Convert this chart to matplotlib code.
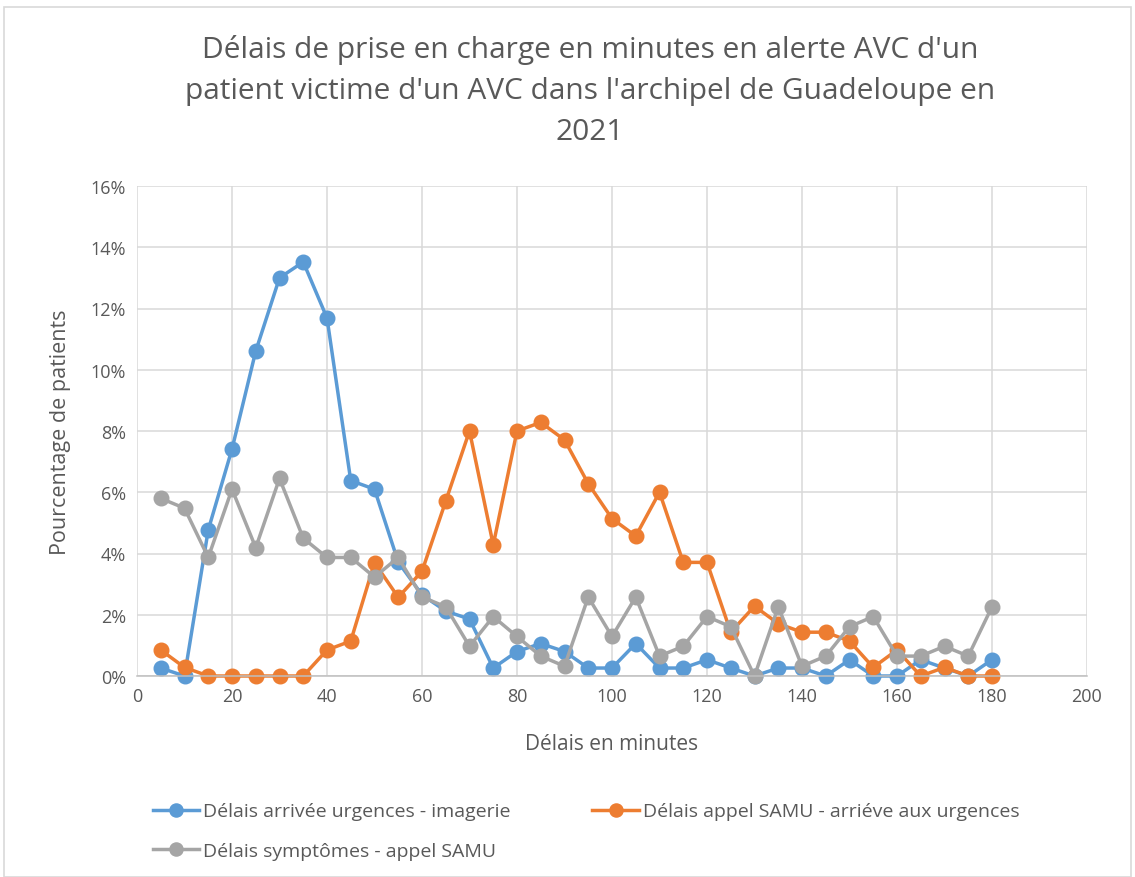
import numpy as np
import matplotlib.pyplot as plt
from matplotlib.patches import Rectangle
from matplotlib.ticker import FuncFormatter

# Minutes (x) and % of patients for each delay series
minutes = list(range(5, 185, 5))

arrivee_imagerie = [0.26, 0.0, 4.77, 7.41, 10.61, 13.0, 13.52, 11.69, 6.38, 6.1,
                    3.72, 2.65, 2.12, 1.86, 0.26, 0.8, 1.06, 0.8, 0.26, 0.26,
                    1.06, 0.26, 0.26, 0.53, 0.26, 0.0, 0.26, 0.26, 0.0, 0.53,
                    0.0, 0.0, 0.53, 0.26, 0.0, 0.53]
appel_arrivee = [0.85, 0.28, 0.0, 0.0, 0.0, 0.0, 0.0, 0.85, 1.14, 3.7,
                 2.57, 3.42, 5.71, 8.0, 4.28, 8.0, 8.28, 7.71, 6.28, 5.14,
                 4.57, 6.0, 3.71, 3.71, 1.43, 2.28, 1.71, 1.43, 1.43, 1.14,
                 0.28, 0.85, 0.0, 0.28, 0.0, 0.0]
symptomes_appel = [5.8, 5.48, 3.87, 6.1, 4.19, 6.45, 4.5, 3.87, 3.87, 3.23,
                   3.87, 2.58, 2.26, 0.97, 1.94, 1.29, 0.65, 0.32, 2.58, 1.29,
                   2.58, 0.65, 0.97, 1.94, 1.61, 0.0, 2.26, 0.32, 0.65, 1.61,
                   1.94, 0.65, 0.65, 0.97, 0.65, 2.26]

labels = ["Délais arrivée urgences - imagerie",
          "Délais appel SAMU - arriéve aux urgences",
          "Délais symptômes - appel SAMU"]
colors = ["#5B9BD5", "#ED7D31", "#A5A5A5"]

plt.rcParams["font.family"] = ["Open Sans", "DejaVu Sans"]
txt = "#595959"

fig = plt.figure(figsize=(11.35, 8.78), dpi=100)
fig.patches.append(Rectangle((4 / 1135, 0), 1 - 8 / 1135, 1 - 8 / 878,
                             transform=fig.transFigure, fill=False,
                             edgecolor="#D9D9D9", linewidth=1.2))
ax = fig.add_axes([137 / 1135, 1 - 677 / 878, 950 / 1135, 490 / 878])

lines = []
for ys, lab, col in zip([arrivee_imagerie, appel_arrivee, symptomes_appel], labels, colors):
    ln, = ax.plot(minutes, ys, color=col, lw=2.5, marker="o", markersize=10.5,
                  label=lab, solid_joinstyle="round", clip_on=False)
    lines.append(ln)

ax.set_xlim(0, 200)
ax.set_ylim(0, 16)
ax.set_xticks(range(0, 201, 20))
ax.set_yticks(range(0, 17, 2))
ax.yaxis.set_major_formatter(FuncFormatter(lambda v, p: f"{v:.0f}%"))
ax.grid(True, color="#D9D9D9", lw=1.1)
ax.set_axisbelow(True)
for s in ["top", "right", "left"]:
    ax.spines[s].set_visible(False)
ax.spines["bottom"].set_color("#BFBFBF")
ax.spines["bottom"].set_linewidth(1.1)
ax.tick_params(length=0, labelsize=13, colors=txt, pad=8)

ax.set_xlabel("Délais en minutes", fontsize=15, color=txt, labelpad=20)
ax.set_ylabel("Pourcentage de patients", fontsize=15.5, color=txt, labelpad=14)

fig.text(0.52, 1 - 91 / 878,
         "Délais de prise en charge en minutes en alerte AVC d'un\n"
         "patient victime d'un AVC dans l'archipel de Guadeloupe en\n2021",
         ha="center", va="center", fontsize=21.5, color=txt, linespacing=1.55)

# column-major fill: blue / gray in first column, orange in second
order = [0, 2, 1]
fig.legend([lines[i] for i in order], [labels[i] for i in order],
           loc="upper left", bbox_to_anchor=(135 / 1135, 1 - 786 / 878),
           ncol=2, frameon=False, fontsize=14, labelcolor=txt,
           handlelength=2.4, handletextpad=0.2, columnspacing=4.2,
           labelspacing=1.1, markerscale=0.9)

fig.savefig("out.png", dpi=100)
